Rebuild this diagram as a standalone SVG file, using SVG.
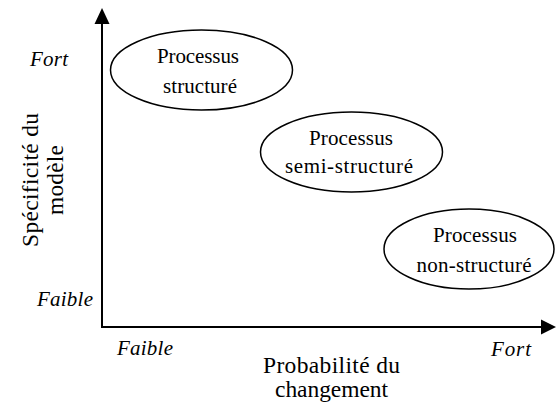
<svg xmlns="http://www.w3.org/2000/svg" width="556" height="405" viewBox="0 0 556 405">
<style>
.t{font-family:"Liberation Serif","Times New Roman",serif;fill:#000}
.n{font-size:21px;text-anchor:middle}
.i{font-size:21px;font-style:italic}
.ax{font-size:23.5px;text-anchor:middle}
.e{fill:none;stroke:#000;stroke-width:1.5}
.a{stroke:#000;stroke-width:2;fill:none}
</style>
<rect width="556" height="405" fill="#fff"/>
<g id="axes">
<line class="a" x1="102" y1="328" x2="102" y2="22"/>
<polygon points="102,8 94.5,24 109.5,24" fill="#000"/>
<line class="a" x1="101" y1="327" x2="543" y2="327"/>
<polygon points="556,327 541,319.5 541,334.5" fill="#000"/>
</g>
<g id="labels">
<text class="t i" x="30" y="66" textLength="38">Fort</text>
<text class="t i" x="37" y="306" textLength="56">Faible</text>
<text class="t i" x="117" y="355" textLength="56">Faible</text>
<text class="t i" x="491" y="356" textLength="40">Fort</text>
<text class="t ax" transform="translate(38,180) rotate(-90)" textLength="134">Spécificité du</text>
<text class="t ax" transform="translate(63,180) rotate(-90)" textLength="70">modèle</text>
<text class="t ax" x="331.5" y="373" textLength="137">Probabilité du</text>
<text class="t ax" x="331.5" y="397" textLength="113">changement</text>
</g>
<g id="node-structure">
<ellipse class="e" cx="201.5" cy="70" rx="91" ry="40"/>
<text class="t n" x="198" y="63" textLength="82">Processus</text>
<text class="t n" x="200" y="93" textLength="74">structuré</text>
</g>
<g id="node-semi">
<ellipse class="e" cx="351.5" cy="152" rx="91" ry="40"/>
<text class="t n" x="351" y="145" textLength="84">Processus</text>
<text class="t n" x="349" y="173" textLength="128">semi-structuré</text>
</g>
<g id="node-non">
<ellipse class="e" cx="469" cy="249" rx="85" ry="40"/>
<text class="t n" x="475" y="242" textLength="84">Processus</text>
<text class="t n" x="474" y="272" textLength="115">non-structuré</text>
</g>
</svg>
